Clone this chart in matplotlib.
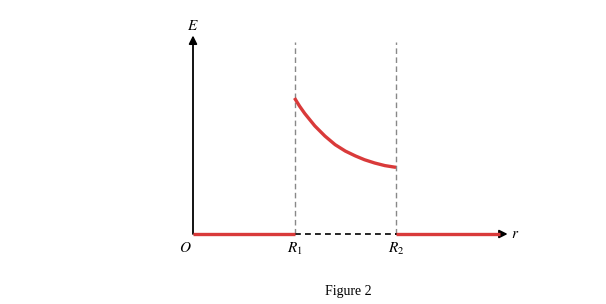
import matplotlib
matplotlib.use("Agg")
import matplotlib.pyplot as plt

plt.rcParams["mathtext.fontset"] = "stix"
plt.rcParams["font.family"] = ["Liberation Serif", "DejaVu Serif"]

# field inside the shell R1 < r < R2 (E(R1) = 1)
r_shell = [1.0, 1.05, 1.10, 1.20, 1.30, 1.40, 1.50, 1.60, 1.69, 1.79, 1.89, 2.0]
e_shell = [1.0, 0.94, 0.887, 0.795, 0.720, 0.657, 0.610, 0.574, 0.546, 0.522, 0.503, 0.490]

R1 = 1.0
R2 = 2.0
r_end = 3.02
r_axis_tip = 3.10
e_axis_tip = 1.46
dash_top = 1.41

RED = "#d93a3a"

# pixel mapping: origin at (193, 234), 101.5 px per r unit, 136 px per E unit
px_r = 101.5
px_e = 136.0

fig = plt.figure(figsize=(6.06, 3.04), dpi=100)
ax = fig.add_axes([0, 0, 1, 1])
ax.set_xlim(-193 / px_r, (606 - 193) / px_r)
ax.set_ylim(-(304 - 234) / px_e, 234 / px_e)
ax.axis("off")

# axes with arrows
ax.annotate("", xy=(0, e_axis_tip), xytext=(0, 0),
            arrowprops=dict(arrowstyle="-|>", color="black", lw=1.3,
                            mutation_scale=12, shrinkA=0, shrinkB=0))
ax.annotate("", xy=(r_axis_tip, 0), xytext=(R2, 0),
            arrowprops=dict(arrowstyle="-|>", color="black", lw=1.3,
                            mutation_scale=12, shrinkA=0, shrinkB=0))

# dashed guides
for rr in (R1, R2):
    ax.plot([rr, rr], [0, dash_top], color="#888888", lw=1.0,
            dashes=(4, 2.5), zorder=1)
ax.plot([R1, R2], [0, 0], color="black", lw=1.2, dashes=(3.5, 2.5), zorder=2)

# field
ax.plot([0, R1], [0, 0], color=RED, lw=2.4, solid_capstyle="butt", zorder=3)
ax.plot([R2, r_end], [0, 0], color=RED, lw=2.4, solid_capstyle="butt", zorder=3)
ax.plot(r_shell, e_shell, color=RED, lw=2.4, solid_capstyle="butt",
        solid_joinstyle="round", zorder=3)

# labels
ax.text(0, e_axis_tip + 0.02, "$E$", ha="center", va="bottom", fontsize=11)
ax.text(r_axis_tip + 0.03, 0, "$r$", ha="left", va="center", fontsize=11)
ax.text(-0.08, -0.05, "$O$", ha="center", va="top", fontsize=11)
ax.text(R1, -0.05, "$R_1$", ha="center", va="top", fontsize=11)
ax.text(R2, -0.05, "$R_2$", ha="center", va="top", fontsize=11)
ax.text((348 - 193) / px_r, -(291 - 234) / px_e, "Figure 2",
        ha="center", va="center", fontsize=10)

fig.savefig("out.png", dpi=100)
